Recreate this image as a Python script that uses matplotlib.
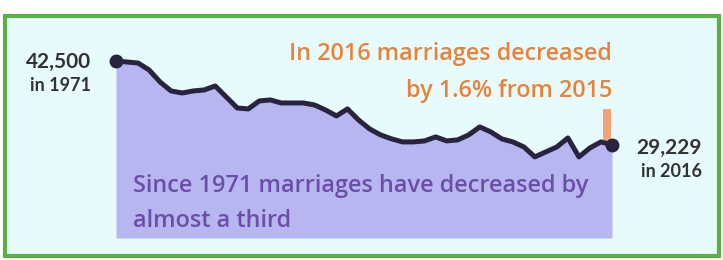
import matplotlib.pyplot as plt
from matplotlib.patches import Rectangle

# marriages per year
years = list(range(1971, 2017))
marriages = [42500, 42340, 42180, 41080, 39180, 37760, 37440, 37760, 37920, 38550,
             36810, 35070, 34920, 36180, 36340, 35860, 35860, 35860, 35550, 34760,
             33810, 34920, 33180, 31760, 30810, 30180, 29700, 29700, 29860, 30490,
             29860, 30020, 30810, 32070, 31280, 30180, 29700, 28910, 27330, 28120,
             28910, 30330, 27330, 28750, 29700, 29229]
base = 14500

W, H = 723, 260
fig = plt.figure(figsize=(W / 100, H / 100), dpi=100)
fig.patch.set_facecolor('white')
plt.rcParams['font.family'] = ['Lato', 'DejaVu Sans']

# green frame with pale background
fig.patches.append(Rectangle((5 / W, 4 / H), 714 / W, 240 / H, transform=fig.transFigure,
                             facecolor='#e8fbfc', edgecolor='#58b046', linewidth=3,
                             zorder=-1))

x0, x1, ytop, ybot = 116, 612, 61, 238
ax = fig.add_axes([x0 / W, (H - ybot) / H, (x1 - x0) / W, (ybot - ytop) / H])
ax.set_zorder(2)
ax.set_xlim(1971, 2016)
ax.set_ylim(base, 42500)
ax.axis('off')

ax.fill_between(years, marriages, base, color='#b8b6f0', linewidth=0)
ax.bar(2015.55, 5200, bottom=29700, width=0.7, color='#f0a478', zorder=2)
ax.plot(years, marriages, color='#28233f', linewidth=3.6, solid_joinstyle='round',
        solid_capstyle='round', zorder=3, clip_on=False)
ax.plot([years[0], years[-1]], [marriages[0], marriages[-1]], 'o', color='#28233f',
        markersize=9, zorder=4, clip_on=False)


def label(x, y, s, **kw):
    fig.text(x / W, 1 - y / H, s, va='baseline', zorder=5, **kw)


dark = '#333333'
label(91, 68, '42,500', ha='right', fontsize=15, fontweight='bold', color=dark)
label(91, 91, 'in 1971', ha='right', fontsize=13, fontweight='bold', color=dark)
label(702, 154, '29,229', ha='right', fontsize=15, fontweight='bold', color=dark)
label(702, 177, 'in 2016', ha='right', fontsize=13, fontweight='bold', color=dark)

body = ['Open Sans', 'DejaVu Sans']
orange = '#e8823a'
label(612, 60, 'In 2016 marriages decreased', ha='right', fontsize=16.8,
      family=body, fontweight='semibold', color=orange)
label(612, 97, 'by 1.6% from 2015', ha='right', fontsize=16.8,
      family=body, fontweight='semibold', color=orange)

purple = '#6a4ea8'
label(133, 192, 'Since 1971 marriages have decreased by', ha='left',
      fontsize=16.9, family=body, fontweight='semibold', color=purple)
label(133, 227, 'almost a third', ha='left', fontsize=16.9,
      family=body, fontweight='semibold', color=purple)

fig.savefig('out.png', dpi=100)
